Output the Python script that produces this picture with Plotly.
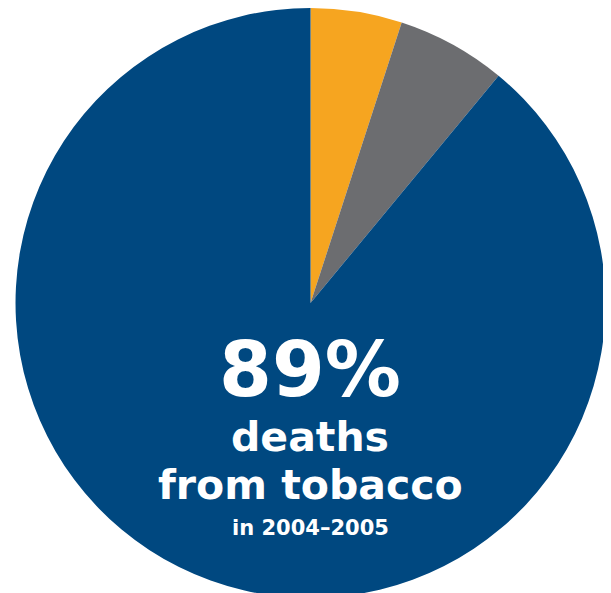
import plotly.graph_objects as go

labels = ["Other cause A", "Other cause B", "Tobacco"]
values = [5, 6, 89]
colors = ["#F6A520", "#6C6D70", "#004880"]

W, H = 611, 593

fig = go.Figure(go.Pie(
    labels=labels,
    values=values,
    sort=False,
    direction="clockwise",
    rotation=0,
    marker=dict(colors=colors, line=dict(width=0)),
    textinfo="none",
    hoverinfo="none",
    showlegend=False,
    domain=dict(x=[0.0123, 0.978], y=[0.005, 1]),
))

font = "DejaVu Sans"
anns = [
    ("<b>89%</b>", 361, 76),
    ("<b>deaths</b>", 429, 41),
    ("<b>from tobacco</b>", 477, 41),
    ("<b>in 2004–2005</b>", 520, 21),
]
for t, ypx, sz in anns:
    fig.add_annotation(x=302 / W, y=1 - ypx / H, xref="paper", yref="paper",
                       text=t, showarrow=False, xanchor="center", yanchor="middle",
                       font=dict(family=font, size=sz, color="white"))

fig.update_layout(width=W, height=H, margin=dict(l=0, r=0, t=0, b=0),
                  paper_bgcolor="white", plot_bgcolor="white")
fig.write_html("out.html")
